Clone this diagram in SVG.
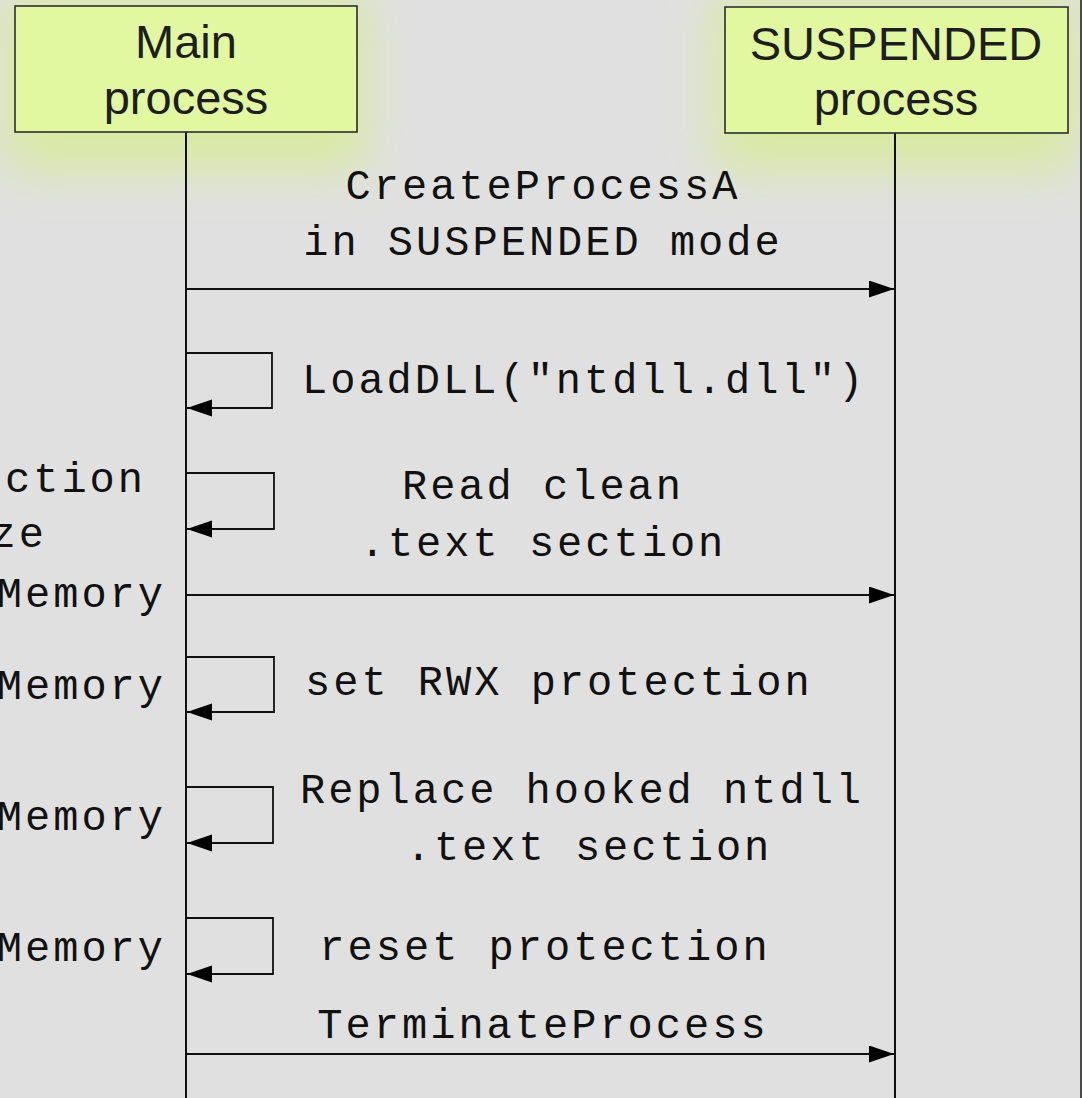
<svg xmlns="http://www.w3.org/2000/svg" width="1082" height="1098" viewBox="0 0 1082 1098">
  <style>
    .box { fill: #e2f8a0; stroke: #2e2e2e; stroke-width: 1.6; }
    .glow { fill: #d6ef86; filter: url(#blur); opacity: 0.7; }
    .ttl { font-family: "Liberation Sans", Arial, sans-serif; font-size: 47px; fill: #1e1e1e; text-anchor: middle; }
    .msg { font-family: "Courier New", "Liberation Mono", monospace; font-size: 42px; letter-spacing: 3px; fill: #111; }
    .c { text-anchor: middle; }
    .e { text-anchor: end; }
    .life { stroke: #111; stroke-width: 2; fill: none; }
    .ln { stroke: #111; stroke-width: 1.8; fill: none; }
  </style>
  <defs>
    <filter id="blur" x="-50%" y="-100%" width="200%" height="300%">
      <feGaussianBlur stdDeviation="24"/>
    </filter>
    <marker id="ah" markerWidth="26" markerHeight="18" refX="25" refY="8.5" orient="auto" markerUnits="userSpaceOnUse">
      <path d="M0,0 L25,8.5 L0,17 Z" fill="#000"/>
    </marker>
  </defs>
  <rect x="0" y="0" width="1082" height="1098" fill="#e0e0e0"/>
  <rect class="glow" x="5" y="-5" width="362" height="175"/>
  <rect class="glow" x="715" y="-5" width="362" height="175"/>
  <line x1="1081" y1="0" x2="1081" y2="1098" stroke="#4a4a4a" stroke-width="2"/>

  <g id="lifelines">
    <line class="life" x1="186" y1="132" x2="186" y2="1098"/>
    <line class="life" x1="895" y1="133" x2="895" y2="1098"/>
  </g>

  <g id="main-process">
    <rect class="box" x="15" y="6" width="342" height="126"/>
    <text class="ttl" x="186" y="58">Main</text>
    <text class="ttl" x="186" y="114">process</text>
  </g>

  <g id="suspended-process">
    <rect class="box" x="725" y="7" width="343" height="126"/>
    <text class="ttl" x="896" y="60">SUSPENDED</text>
    <text class="ttl" x="896" y="115">process</text>
  </g>

  <g id="connectors">
    <line class="ln" x1="186" y1="289" x2="894" y2="289" marker-end="url(#ah)"/>
    <polyline class="ln" points="186,353 272,353 272,408 187,408" marker-end="url(#ah)"/>
    <polyline class="ln" points="186,473 274,473 274,529 187,529" marker-end="url(#ah)"/>
    <line class="ln" x1="186" y1="595" x2="894" y2="595" marker-end="url(#ah)"/>
    <polyline class="ln" points="186,657 274,657 274,712 187,712" marker-end="url(#ah)"/>
    <polyline class="ln" points="186,787 273,787 273,843 187,843" marker-end="url(#ah)"/>
    <polyline class="ln" points="186,918 273,918 273,974 187,974" marker-end="url(#ah)"/>
    <line class="ln" x1="186" y1="1054" x2="894" y2="1054" marker-end="url(#ah)"/>
  </g>

  <g id="labels">
    <text class="msg c" x="543" y="199">CreateProcessA</text>
    <text class="msg c" x="543" y="255">in SUSPENDED mode</text>
    <text class="msg" x="302" y="393">LoadDLL("ntdll.dll")</text>
    <text class="msg c" x="543" y="499">Read clean</text>
    <text class="msg c" x="543" y="556">.text section</text>
    <text class="msg" x="305" y="695">set RWX protection</text>
    <text class="msg c" x="582" y="803">Replace hooked ntdll</text>
    <text class="msg c" x="589" y="860">.text section</text>
    <text class="msg c" x="545" y="960">reset protection</text>
    <text class="msg c" x="543" y="1038">TerminateProcess</text>

    <text class="msg e" x="146" y="492">ction</text>
    <text class="msg e" x="47" y="547">ze</text>
    <text class="msg e" x="166" y="607">Memory</text>
    <text class="msg e" x="166" y="699">Memory</text>
    <text class="msg e" x="166" y="830">Memory</text>
    <text class="msg e" x="166" y="961">Memory</text>
  </g>
</svg>
